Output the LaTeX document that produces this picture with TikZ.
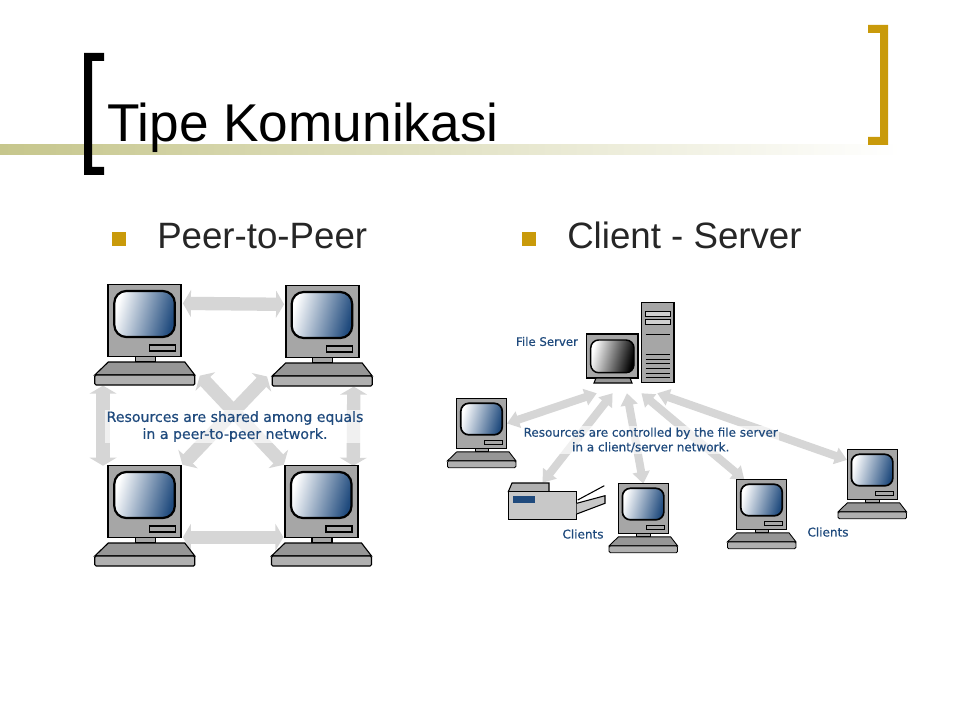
\documentclass[tikz,border=0pt]{standalone}
\usepackage{fontspec}
\setmainfont{Liberation Sans}
\newfontfamily\netfont[FakeBold=.5]{DejaVu Sans}
\usetikzlibrary{arrows.meta}
\definecolor{goldbar}{HTML}{C99A0A}
\definecolor{olivebar}{HTML}{C6C68C}
\definecolor{linkgray}{HTML}{D6D6D6}
\definecolor{netblue}{HTML}{1F4A7D}
\definecolor{hostgray}{HTML}{A6A6A6}
\definecolor{deskgray}{HTML}{969696}
\definecolor{footgray}{HTML}{B0B0B0}
\begin{document}
\begin{tikzpicture}
[x=0.75pt,y=-0.75pt,
  hostbig/.style={shape=rectangle,inner sep=0pt,minimum width=54.75pt,minimum height=53.25pt},%
  hostsmall/.style={shape=rectangle,inner sep=0pt,minimum width=37.5pt,minimum height=36.75pt},%
  linkbig/.style={draw=linkgray,line width=10pt,{Triangle[width=20pt,length=6pt]}-{Triangle[width=20pt,length=6pt]}},%
  linksmall/.style={draw=linkgray,line width=6pt,{Triangle[width=12.5pt,length=9pt]}-{Triangle[width=12.5pt,length=9pt]}},%
  netlabel/.style={text=netblue,inner sep=1pt,align=center,font=\netfont},%
  bullettext/.style={anchor=base west,inner sep=0pt,text=black!85,font=\fontsize{27.5}{32}\selectfont},%
  bulletmark/.style={fill=goldbar,draw=none},%
  screen radius/.store in=\screenrad,%
  screen radius=9pt,%
  computer/.pic={
    \draw[fill=hostgray,line width=1.2*\pgflinewidth] (-36.5,-36) rectangle (36.5,36);
    \draw[rounded corners=\screenrad,left color=white,right color=netblue,shading angle=75,line width=1.4*\pgflinewidth]
      (-30.5,-29.5) rectangle (30,16.5);
    \draw[fill=hostgray] (4.5,24.5) rectangle (30.5,30.5);
    \draw[fill=hostgray] (-9.5,36) rectangle (10.5,41.5);
    \draw[fill=deskgray] (-50,54.5) -- (-36.5,41.5) -- (40,41.5) -- (50,54.5) -- cycle;
    \draw[fill=footgray,rounded corners=1pt] (-50,54.5) rectangle (50,64.5);
  }]
%%% slide frame
\path[use as bounding box,fill=white] (0,0) rectangle (960,720);
\shade[left color=olivebar,right color=white,draw=none] (0,145) rectangle (900,155);
\fill[black] (84,53) -- (104,53) -- (104,61) -- (92,61) -- (92,167) -- (104,167) -- (104,175) -- (84,175) -- cycle;
\fill[goldbar] (868,25) -- (888,25) -- (888,145) -- (868,145) -- (868,137) -- (880,137) -- (880,33) -- (868,33) -- cycle;
\node (title) at (107,142) [anchor=base west,inner sep=0pt,font=\fontsize{39.9}{44}\selectfont] {Tipe Komunikasi};
%
%%% bullets
\node (markp) at (119,239) [bulletmark,minimum size=11pt,inner sep=0pt] {};
\node (peer) at (157,248.5) [bullettext] {Peer-to-Peer};
\node (markc) at (529,239) [bulletmark,minimum size=11pt,inner sep=0pt] {};
\node (client) at (567,248.5) [bullettext] {Client - Server};
%
%%% peer-to-peer network
% nodes or vertices
\node (pa) at (144.8,320.5) [hostbig] {};
\node (pb) at (322.2,321.5) [hostbig] {};
\node (pc) at (144.8,501.5) [hostbig] {};
\node (pd) at (321.5,501.5) [hostbig] {};
% edges or lines
\path
(pa.25) edge[linkbig,shorten <=1pt,shorten >=1pt] (pb.155)
(pc.south east) edge[linkbig,shorten <=1pt,shorten >=1pt] (pd.south west)
([xshift=-3.75pt]pa.south west) edge[linkbig,shorten <=22pt,shorten >=0pt] ([xshift=-3.75pt]pc.north west)
([xshift=-3.75pt]pb.south east) edge[linkbig,shorten <=22pt,shorten >=0pt] ([xshift=-3.75pt]pd.north east)
(pa.south east) edge[linkbig,shorten <=20pt,shorten >=1pt] (pd.north west)
(pb.south west) edge[linkbig,shorten <=20pt,shorten >=1pt] (pc.north east);
\node (peertext) at (235,426.5) [netlabel,fill=white,fill opacity=.65,text opacity=1,
  font=\netfont\fontsize{10.6}{12.8}\selectfont] {Resources are shared among equals\\in a peer-to-peer network.};
\pic[line width=.85pt] at (pa) {computer};
\pic[line width=.85pt] at (pb) {computer};
\pic[line width=.85pt] at (pc) {computer};
\pic[line width=.85pt] at (pd) {computer};
%
%%% client/server network
% nodes or vertices
\node (srv) at (627,343) [shape=rectangle,inner sep=0pt,minimum width=45pt,minimum height=75pt] {};
\node (ca) at (481.7,423.5) [hostsmall] {};
\node (prt) at (542.5,501) [shape=rectangle,inner sep=0pt,minimum width=51pt,minimum height=27pt] {};
\node (cb) at (643.3,508.5) [hostsmall] {};
\node (cc) at (761.7,504.5) [hostsmall] {};
\node (cd) at (872.3,474.5) [hostsmall] {};
% edges or lines
\path
(srv.south west) edge[linksmall] (ca.east)
(srv.254) edge[linksmall] (prt.north)
(srv.south) edge[linksmall] (cb.north)
(srv.286) edge[linksmall] (cc.125)
(srv.south east) edge[linksmall] (cd.150);
\node (clienttext) at (650.7,440) [netlabel,fill=white,fill opacity=.65,text opacity=1,
  font=\netfont\fontsize{9}{11}\selectfont] {Resources are controlled by the file server\\in a client/server network.};
% file server
\draw[fill=hostgray,line width=.9pt] (586.7,334) rectangle (638,378);
\draw[rounded corners=6pt,left color=white,right color=black,shading angle=75,line width=1.1pt] (590.7,340) rectangle (634,372.7);
\draw[fill=deskgray,line width=.8pt] (596,378) -- (630,378) -- (632,383) -- (594,383) -- cycle;
\draw[fill=hostgray,line width=.9pt] (641.7,302.7) rectangle (674,382.7);
\draw[fill=footgray!60,line width=.6pt] (645.7,311.7) rectangle (670,316);
\draw[fill=footgray!60,line width=.6pt] (645.7,319.3) rectangle (670,324);
\draw[line width=.8pt] (645.7,334.3) -- (670,334.3);
\foreach \slotY in {354.3,359,363.7,368.3,373,377.3}
  \draw[line width=.7pt] (645.7,\slotY) -- (670,\slotY);
% printer
\draw[fill=footgray,line width=.8pt] (508.3,491.7) -- (512,483) -- (549,483) -- (549,491.7) -- cycle;
\draw[fill=footgray!70,line width=.9pt] (508.3,491.7) rectangle (576.7,519.3);
\fill[netblue] (513.3,496) rectangle (535,503.3);
\draw[fill=footgray!70,line width=.8pt] (576.7,503.3) -- (605,495.7) -- (605,503.3) -- (576.7,514);
\draw[line width=.8pt] (577.7,500) -- (604.3,485.7);
% clients
\pic[scale=.685,line width=.65pt,screen radius=6pt] at (ca) {computer};
\pic[scale=.685,line width=.65pt,screen radius=6pt] at (cb) {computer};
\pic[scale=.685,line width=.65pt,screen radius=6pt] at (cc) {computer};
\pic[scale=.685,line width=.65pt,screen radius=6pt] at (cd) {computer};
% labels
\node (filesrv) at (547,341.5) [netlabel,font=\netfont\fontsize{8.8}{10}\selectfont] {File Server};
\node (clab) at (583,534) [netlabel,font=\netfont\fontsize{9}{10}\selectfont] {Clients};
\node (dlab) at (828,532) [netlabel,font=\netfont\fontsize{9}{10}\selectfont] {Clients};
\end{tikzpicture}
\end{document}
